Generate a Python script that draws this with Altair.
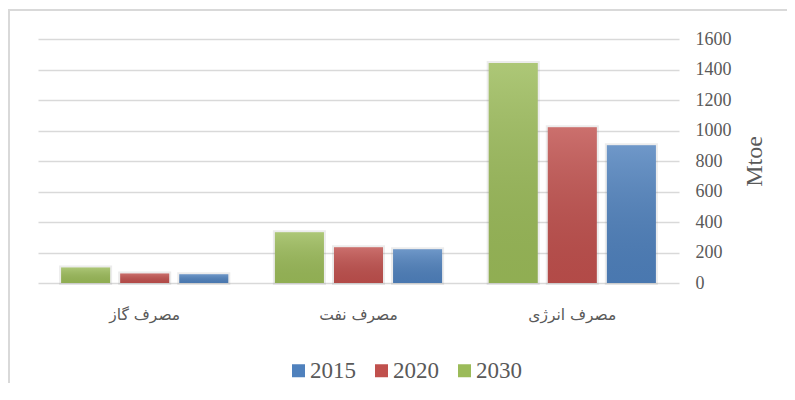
import altair as alt
import pandas as pd

categories = ["مصرف گاز", "مصرف نفت", "مصرف انرژی"]
years = ["2015", "2020", "2030"]
values_2015 = [57, 222, 904]
values_2020 = [63, 235, 1022]
values_2030 = [102, 333, 1442]
y_ticks = [0, 200, 400, 600, 800, 1000, 1200, 1400, 1600]
colors = ["#4f81bd", "#c0504d", "#9bbb59"]
bar_order = ["2030", "2020", "2015"]

rows = []
for i, c in enumerate(categories):
    for yr, vals in zip(years, [values_2015, values_2020, values_2030]):
        rows.append({"category": c, "year": yr, "value": vals[i]})
df = pd.DataFrame(rows)

text_color = "#595959"
serif = "Liberation Serif, Times New Roman, serif"

x_enc = alt.X(
    "category:N",
    sort=categories,
    scale=alt.Scale(paddingInner=0.218, paddingOuter=0.108),
    axis=alt.Axis(
        title=None, labelAngle=0, domain=False, ticks=False, grid=False,
        labelFont="DejaVu Sans", labelFontSize=15.5, labelColor=text_color,
        labelPadding=24,
    ),
)
xo_enc = alt.XOffset("year:N", sort=bar_order,
                     scale=alt.Scale(paddingInner=0.17, paddingOuter=0))
y_enc = alt.Y(
    "value:Q",
    scale=alt.Scale(domain=[0, 1600], nice=False),
    axis=alt.Axis(
        orient="right", values=y_ticks, format="d", grid=True,
        gridColor="#d9d9d9", gridWidth=1.5, domain=False, ticks=False,
        labelFont=serif, labelFontSize=18, labelColor=text_color,
        labelPadding=16, title="Mtoe", titleFont=serif,
        titleFontSize=24, titleFontWeight="normal", titleColor=text_color,
        titleAngle=270, titleBaseline="top", titlePadding=11,
    ),
)

base = alt.Chart(df).encode(x=x_enc, xOffset=xo_enc, y=y_enc)

shadow = base.mark_bar(fillOpacity=0, stroke="#808080", strokeOpacity=0.15,
                       strokeWidth=4)

bars = base.mark_bar().encode(
    color=alt.Color(
        "year:N",
        scale=alt.Scale(domain=years, range=colors),
        legend=alt.Legend(
            title=None, orient="none", legendX=249, legendY=320,
            direction="horizontal", symbolType="square", symbolSize=169,
            symbolStrokeWidth=0, labelFont=serif,
            labelFontSize=23, labelColor=text_color, labelOffset=0,
            columnPadding=14, padding=0,
        ),
    )
)

shade = base.mark_bar(
    fill=alt.Gradient(
        gradient="linear", x1=0, y1=0, x2=0, y2=1,
        stops=[
            alt.GradientStop(offset=0, color="rgba(255,255,255,0.18)"),
            alt.GradientStop(offset=1, color="rgba(0,0,0,0.07)"),
        ],
    )
)

frame_df = pd.DataFrame({"k": [0]})
frame_left = alt.Chart(frame_df).mark_rule(color="#d9d9d9", strokeWidth=2).encode(
    x=alt.value(-29), y=alt.value(-29), y2=alt.value(400)
)
frame_top = alt.Chart(frame_df).mark_rule(color="#d9d9d9", strokeWidth=2).encode(
    x=alt.value(-30), x2=alt.value(760), y=alt.value(-29)
)

chart = alt.layer(shadow, bars, shade, frame_left, frame_top).properties(
    width=641, height=244,
    autosize=alt.AutoSizeParams(type="none"),
    padding={"left": 30, "top": 31, "right": 108, "bottom": 100},
    background="white",
).configure_view(stroke=None).configure_axis(
    labelFont=serif, titleFont=serif
).configure_legend(labelFont=serif)

chart.save("out.html", embed_options={"renderer": "svg", "actions": False})
